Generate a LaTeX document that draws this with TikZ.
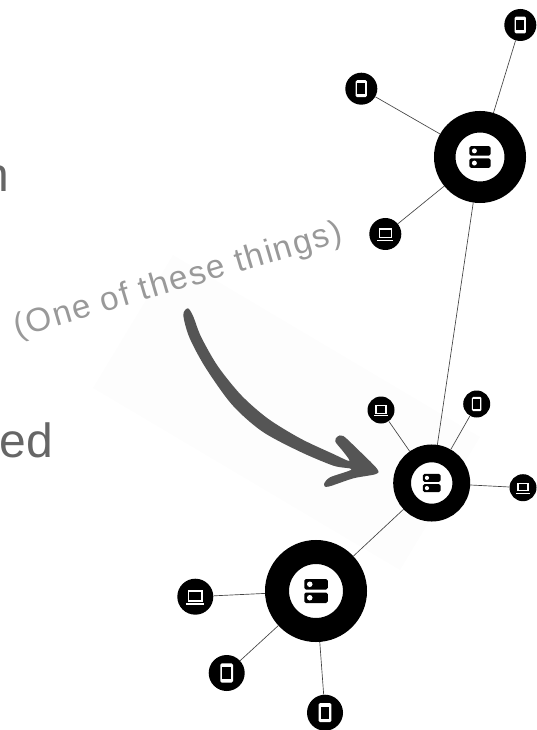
\documentclass[tikz,border=0pt]{standalone}
\usepackage{fontspec}
\setmainfont{Liberation Sans}
\newfontfamily\notefont[LetterSpace=5.2]{Liberation Sans}
\definecolor{bigtext}{HTML}{666666}
\definecolor{notetext}{HTML}{999999}
\definecolor{marker}{HTML}{555555}
\definecolor{patch}{HTML}{FDFDFD}
\definecolor{wire}{HTML}{444444}
\tikzset{
  hub/.style 2 args={circle,draw=black,fill=white,inner sep=0pt,line width=#2*0.75pt,minimum size=#1*0.75pt},
  leaf/.style={circle,fill=black,inner sep=0pt,minimum size=#1*1.5pt},
  link/.style={draw=wire,line width=0.5pt},
  phoneicon/.pic={
    \fill[white,rounded corners=1pt] (-.35,-.53) rectangle (.35,.53);
    \fill[black] (-.24,-.34) rectangle (.24,.34);
  },
  laptopicon/.pic={
    \fill[white] (-.42,-.37) rectangle (.42,.28);
    \fill[black] (-.33,-.28) rectangle (.33,.19);
    \fill[white] (-.51,.37) rectangle (.51,.46);
  },
  servericon/.pic={
    \fill[black,rounded corners=1.2pt] (-.47,-.48) rectangle (.47,-.06);
    \fill[black,rounded corners=1.2pt] (-.47,.06) rectangle (.47,.48);
    \fill[white] (-.25,-.27) circle (.11);
    \fill[white] (-.25,.27) circle (.11);
  }
}
\begin{document}
\begin{tikzpicture}[x=0.75pt,y=-0.75pt]
\useasboundingbox (0,0) rectangle (536,730);
\fill[patch] (173,255) -- (93,388) -- (400,570) -- (480,437) -- cycle;

\node (leftover1) [anchor=base east,text=bigtext,font=\fontsize{36}{42}\selectfont,inner sep=0pt] at (9,192) {n};
\node (leftover2) [anchor=base east,text=bigtext,font=\fontsize{36}{42}\selectfont,inner sep=0pt] at (53,457) {ed};
\node (note) [anchor=base west,rotate=16.5,text=notetext,font=\notefont\fontsize{25}{29}\selectfont,inner sep=0pt] at (17,338) {(One of these things)};

% hand drawn arrow, traced in thirds of a pixel
\begin{scope}[shift={(0,140)},scale=1/3]
\fill[marker] plot[smooth cycle,tension=0.5] coordinates {(564,505) (580,530) (603,590) (653,678) (724,766) (804,836) (902,896) (1000,942) (1048,963)
  (1030,935) (1006,905) (1012,890) (1030,888) (1070,925) (1130,985) (1128,1002) (1060,1015) (985,1040) (972,1033) (990,1012) (1055,988)
  (1000,977) (898,934) (786,874) (696,794) (616,682) (568,592) (550,525)};
\end{scope}

\node (hubA) [hub={70.5}{21.5}] at (480,157) {};
\node (hubB) [hub={59.2}{17.8}] at (431.7,483) {};
\node (hubC) [hub={78}{24}] at (316,591) {};

\node (phoneA1) [leaf=16] at (520.3,25) {};
\node (phoneA2) [leaf=16] at (361.3,88.7) {};
\node (laptopA) [leaf=16] at (385.3,234) {};
\node (laptopB1) [leaf=13.5] at (381,410) {};
\node (phoneB) [leaf=13.5] at (476.7,404) {};
\node (laptopB2) [leaf=13.5] at (523,487.7) {};
\node (laptopC) [leaf=18] at (195.3,596.7) {};
\node (phoneC1) [leaf=18] at (226.7,673) {};
\node (phoneC2) [leaf=18] at (325,712.7) {};

\foreach \a/\b in {hubA/phoneA1,hubA/phoneA2,hubA/laptopA,hubA/hubB,hubB/laptopB1,hubB/phoneB,hubB/laptopB2,hubB/hubC,hubC/laptopC,hubC/phoneC1,hubC/phoneC2}
  \draw[link] (\a) -- (\b);

\foreach \n/\r in {phoneA1/16,phoneA2/16,phoneB/13.5,phoneC1/18,phoneC2/18}
  \pic[scale=\r] at (\n) {phoneicon};
\foreach \n/\r in {laptopA/16,laptopB1/13.5,laptopB2/13.5,laptopC/18}
  \pic[scale=\r] at (\n) {laptopicon};
\foreach \n/\r in {hubA/22.5,hubB/19,hubC/25}
  \pic[scale=\r] at (\n) {servericon};
\end{tikzpicture}
\end{document}
